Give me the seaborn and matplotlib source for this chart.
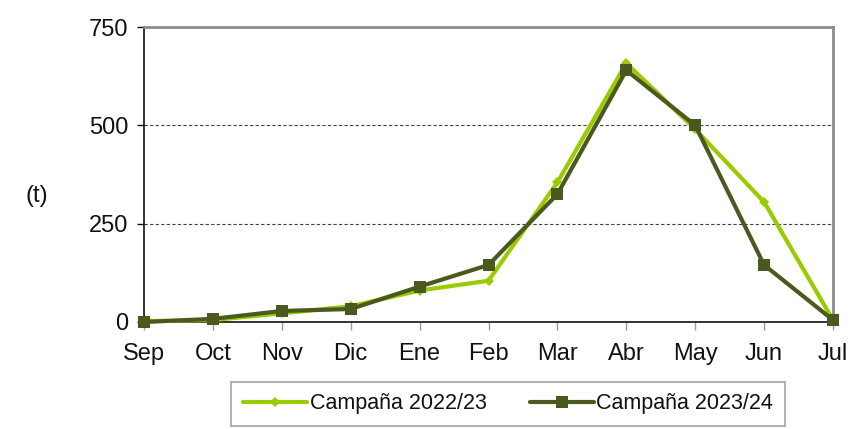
import matplotlib
matplotlib.use("Agg")
import matplotlib.pyplot as plt
import seaborn as sns
import pandas as pd

meses = ["Sep", "Oct", "Nov", "Dic", "Ene", "Feb", "Mar", "Abr", "May", "Jun", "Jul"]
campana_2022_23 = [2, 5, 22, 40, 80, 105, 355, 658, 490, 305, 5]
campana_2023_24 = [0, 8, 28, 33, 90, 145, 325, 640, 500, 145, 5]
series_names = ["Campaña 2022/23", "Campaña 2023/24"]
y_ticks = [0, 250, 500, 750]

sns.set_theme(style="white")
plt.rcParams["font.family"] = ["Liberation Sans", "DejaVu Sans"]

df = pd.DataFrame({
    "mes": meses * 2,
    "pos": list(range(len(meses))) * 2,
    "valor": campana_2022_23 + campana_2023_24,
    "campaña": [series_names[0]] * len(meses) + [series_names[1]] * len(meses),
})

fig = plt.figure(figsize=(8.65, 4.29), dpi=100)
ax = fig.add_axes([144 / 865, 1 - 322 / 429, (833 - 144) / 865, (322 - 27) / 429])

palette = {series_names[0]: "#99CC00", series_names[1]: "#4A5A1E"}
markers = {series_names[0]: "D", series_names[1]: "s"}
sizes = {series_names[0]: 5, series_names[1]: 8}

for name in series_names:
    sub = df[df["campaña"] == name]
    sns.lineplot(data=sub, x="pos", y="valor", ax=ax, color=palette[name],
                 marker=markers[name], markersize=sizes[name], linewidth=3,
                 markeredgewidth=0, label=name, sort=False, zorder=3, clip_on=False)

ax.set_xlim(0, len(meses) - 1)
ax.set_ylim(0, 750)
ax.set_yticks(y_ticks)
ax.set_yticklabels([str(v) for v in y_ticks], fontsize=17, color="#111111")
ax.set_xticks(range(len(meses)))
ax.set_xticklabels(meses, fontsize=17, color="#111111")
ax.set_xlabel("")
ax.set_ylabel("(t)", fontsize=17, rotation=0, color="#111111")
ax.yaxis.set_label_coords(-0.155, 0.39)

for v in [250, 500]:
    ax.axhline(v, color="#444444", linestyle=(0, (3, 2)), linewidth=0.8, zorder=1)

for side in ["left", "bottom"]:
    ax.spines[side].set_color("#111111")
    ax.spines[side].set_linewidth(1.2)
for side in ["top", "right"]:
    ax.spines[side].set_color("#8c8c8c")
    ax.spines[side].set_linewidth(2)
    ax.spines[side].set_visible(True)

ax.tick_params(axis="y", which="major", direction="out", length=5, width=1, color="#111111", left=True, pad=6)
ax.tick_params(axis="x", which="major", direction="out", length=6, width=1, color="#999999", bottom=True, pad=9)

ax.get_legend().remove()
handles, labels = ax.get_legend_handles_labels()
leg = fig.legend(handles, labels, loc="center", bbox_to_anchor=(508 / 865, 1 - 404 / 429),
                 ncol=2, fontsize=15.5, frameon=True, fancybox=False, handlelength=3.0,
                 columnspacing=2.0, handletextpad=0.1, borderpad=0.55, borderaxespad=0)
leg.get_frame().set_edgecolor("#8c8c8c")
leg.get_frame().set_linewidth(1.2)
for t in leg.get_texts():
    t.set_color("#111111")

fig.savefig("out.png", dpi=100)
